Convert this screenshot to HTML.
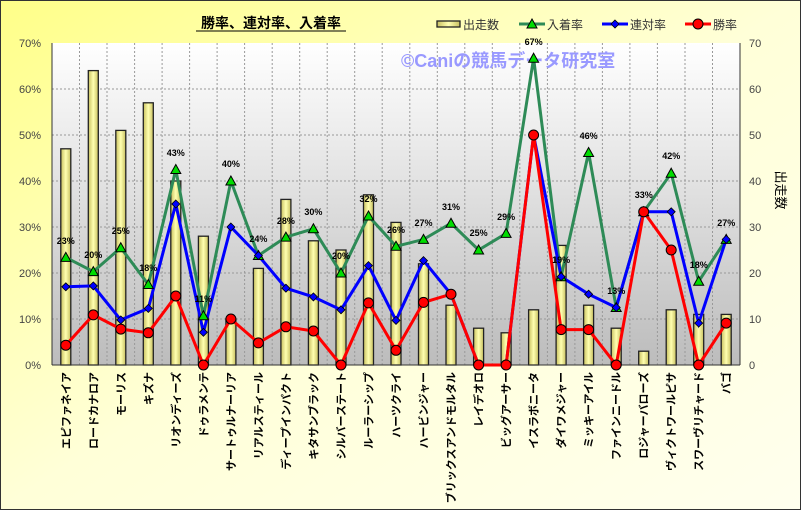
<!DOCTYPE html>
<html><head><meta charset="utf-8"><style>
body{margin:0;width:801px;height:510px;overflow:hidden}
text{font-family:"Liberation Sans","Noto Sans CJK JP",sans-serif}
</style></head><body>
<svg width="801" height="510" xmlns="http://www.w3.org/2000/svg">
<defs>
<linearGradient id="bg" x1="0" y1="0" x2="1" y2="1"><stop offset="0" stop-color="#ffff88"/><stop offset="0.5" stop-color="#ffffd8"/><stop offset="1" stop-color="#ffffee"/></linearGradient>
<linearGradient id="pl" x1="0" y1="0" x2="0" y2="1"><stop offset="0" stop-color="#ffffff"/><stop offset="1" stop-color="#bcbcbc"/></linearGradient>
<linearGradient id="bar" x1="0" y1="0" x2="1" y2="0"><stop offset="0" stop-color="#c8c060"/><stop offset="0.5" stop-color="#ffffb0"/><stop offset="1" stop-color="#c8c060"/></linearGradient>
</defs>
<rect x="0.5" y="0.5" width="800" height="509" fill="url(#bg)" stroke="#333"/>
<rect x="52" y="43" width="688" height="322" fill="url(#pl)"/>
<g stroke="#999" stroke-dasharray="2,2" stroke-width="1">
<line x1="52" y1="319" x2="740" y2="319"/><line x1="52" y1="273" x2="740" y2="273"/><line x1="52" y1="227" x2="740" y2="227"/><line x1="52" y1="181" x2="740" y2="181"/><line x1="52" y1="135" x2="740" y2="135"/><line x1="52" y1="89" x2="740" y2="89"/>
<line x1="79.5" y1="43" x2="79.5" y2="365"/><line x1="107" y1="43" x2="107" y2="365"/><line x1="134.6" y1="43" x2="134.6" y2="365"/><line x1="162.1" y1="43" x2="162.1" y2="365"/><line x1="189.6" y1="43" x2="189.6" y2="365"/><line x1="217.1" y1="43" x2="217.1" y2="365"/><line x1="244.6" y1="43" x2="244.6" y2="365"/><line x1="272.2" y1="43" x2="272.2" y2="365"/><line x1="299.7" y1="43" x2="299.7" y2="365"/><line x1="327.2" y1="43" x2="327.2" y2="365"/><line x1="354.7" y1="43" x2="354.7" y2="365"/><line x1="382.2" y1="43" x2="382.2" y2="365"/><line x1="409.8" y1="43" x2="409.8" y2="365"/><line x1="437.3" y1="43" x2="437.3" y2="365"/><line x1="464.8" y1="43" x2="464.8" y2="365"/><line x1="492.3" y1="43" x2="492.3" y2="365"/><line x1="519.8" y1="43" x2="519.8" y2="365"/><line x1="547.4" y1="43" x2="547.4" y2="365"/><line x1="574.9" y1="43" x2="574.9" y2="365"/><line x1="602.4" y1="43" x2="602.4" y2="365"/><line x1="629.9" y1="43" x2="629.9" y2="365"/><line x1="657.4" y1="43" x2="657.4" y2="365"/><line x1="685" y1="43" x2="685" y2="365"/><line x1="712.5" y1="43" x2="712.5" y2="365"/>
</g>
<text x="401" y="67" font-size="18" font-weight="bold" fill="#9999ff">©Caniの競馬データ研究室</text>
<g fill="url(#bar)" stroke="#222" stroke-width="1.3">
<rect x="60.8" y="148.8" width="10" height="216.2"/><rect x="88.3" y="70.6" width="10" height="294.4"/><rect x="115.8" y="130.4" width="10" height="234.6"/><rect x="143.3" y="102.8" width="10" height="262.2"/><rect x="170.8" y="181" width="10" height="184"/><rect x="198.4" y="236.2" width="10" height="128.8"/><rect x="225.9" y="319" width="10" height="46"/><rect x="253.4" y="268.4" width="10" height="96.6"/><rect x="280.9" y="199.4" width="10" height="165.6"/><rect x="308.4" y="240.8" width="10" height="124.2"/><rect x="336" y="250" width="10" height="115"/><rect x="363.5" y="194.8" width="10" height="170.2"/><rect x="391" y="222.4" width="10" height="142.6"/><rect x="418.5" y="263.8" width="10" height="101.2"/><rect x="446" y="305.2" width="10" height="59.8"/><rect x="473.6" y="328.2" width="10" height="36.8"/><rect x="501.1" y="332.8" width="10" height="32.2"/><rect x="528.6" y="309.8" width="10" height="55.2"/><rect x="556.1" y="245.4" width="10" height="119.6"/><rect x="583.6" y="305.2" width="10" height="59.8"/><rect x="611.2" y="328.2" width="10" height="36.8"/><rect x="638.7" y="351.2" width="10" height="13.8"/><rect x="666.2" y="309.8" width="10" height="55.2"/><rect x="693.7" y="314.4" width="10" height="50.6"/><rect x="721.2" y="314.4" width="10" height="50.6"/>
</g>
<line x1="52" y1="43" x2="52" y2="365" stroke="#333"/><line x1="740" y1="43" x2="740" y2="365" stroke="#333"/><line x1="52" y1="365" x2="740" y2="365" stroke="#333"/>
<polyline fill="none" stroke="#2e8b57" stroke-width="3" points="65.8,257.4 93.3,271.6 120.8,247.7 148.3,284.5 175.8,169.5 203.4,315.8 230.9,181 258.4,255.5 285.9,237.1 313.4,228.8 341,273 368.5,216 396,246.3 423.5,239.4 451,223.3 478.6,250 506.1,233.4 533.6,58.2 561.1,276.7 588.6,152.5 616.2,307.5 643.7,211.8 671.2,173.2 698.7,281.3 726.2,239.4"/>
<polyline fill="none" stroke="#0000ff" stroke-width="3" points="65.8,286.8 93.3,285.9 120.8,319.9 148.3,308.4 175.8,204 203.4,332.3 230.9,227 258.4,255.5 285.9,288.2 313.4,296.9 341,309.8 368.5,265.6 396,320.4 423.5,260.6 451,294.2 478.6,365 506.1,365 533.6,135 561.1,276.7 588.6,294.2 616.2,307.5 643.7,211.8 671.2,211.8 698.7,323.1 726.2,239.4"/>
<polyline fill="none" stroke="#ff0000" stroke-width="3" points="65.8,345.2 93.3,314.9 120.8,329.1 148.3,332.8 175.8,296 203.4,365 230.9,319 258.4,342.9 285.9,326.8 313.4,331 341,365 368.5,302.9 396,350.3 423.5,302.4 451,294.2 478.6,365 506.1,365 533.6,135 561.1,329.6 588.6,329.6 616.2,365 643.7,211.8 671.2,250 698.7,365 726.2,323.1"/>
<g fill="#00dd00" stroke="#000" stroke-width="1">
<path d="M65.8,252.4l5,9h-10z"/><path d="M93.3,266.6l5,9h-10z"/><path d="M120.8,242.7l5,9h-10z"/><path d="M148.3,279.5l5,9h-10z"/><path d="M175.8,164.5l5,9h-10z"/><path d="M203.4,310.8l5,9h-10z"/><path d="M230.9,176l5,9h-10z"/><path d="M258.4,250.5l5,9h-10z"/><path d="M285.9,232.1l5,9h-10z"/><path d="M313.4,223.8l5,9h-10z"/><path d="M341,268l5,9h-10z"/><path d="M368.5,211l5,9h-10z"/><path d="M396,241.3l5,9h-10z"/><path d="M423.5,234.4l5,9h-10z"/><path d="M451,218.3l5,9h-10z"/><path d="M478.6,245l5,9h-10z"/><path d="M506.1,228.4l5,9h-10z"/><path d="M533.6,53.2l5,9h-10z"/><path d="M561.1,271.7l5,9h-10z"/><path d="M588.6,147.5l5,9h-10z"/><path d="M616.2,302.5l5,9h-10z"/><path d="M643.7,206.8l5,9h-10z"/><path d="M671.2,168.2l5,9h-10z"/><path d="M698.7,276.3l5,9h-10z"/><path d="M726.2,234.4l5,9h-10z"/>
</g>
<g fill="#0000ff" stroke="#000" stroke-width="0.8">
<path d="M65.8,282.8l4,4-4,4-4-4z"/><path d="M93.3,281.9l4,4-4,4-4-4z"/><path d="M120.8,315.9l4,4-4,4-4-4z"/><path d="M148.3,304.4l4,4-4,4-4-4z"/><path d="M175.8,200l4,4-4,4-4-4z"/><path d="M203.4,328.3l4,4-4,4-4-4z"/><path d="M230.9,223l4,4-4,4-4-4z"/><path d="M258.4,251.5l4,4-4,4-4-4z"/><path d="M285.9,284.2l4,4-4,4-4-4z"/><path d="M313.4,292.9l4,4-4,4-4-4z"/><path d="M341,305.8l4,4-4,4-4-4z"/><path d="M368.5,261.6l4,4-4,4-4-4z"/><path d="M396,316.4l4,4-4,4-4-4z"/><path d="M423.5,256.6l4,4-4,4-4-4z"/><path d="M451,290.2l4,4-4,4-4-4z"/><path d="M533.6,131l4,4-4,4-4-4z"/><path d="M561.1,272.7l4,4-4,4-4-4z"/><path d="M588.6,290.2l4,4-4,4-4-4z"/><path d="M616.2,303.5l4,4-4,4-4-4z"/><path d="M643.7,207.8l4,4-4,4-4-4z"/><path d="M671.2,207.8l4,4-4,4-4-4z"/><path d="M698.7,319.1l4,4-4,4-4-4z"/><path d="M726.2,235.4l4,4-4,4-4-4z"/>
</g>
<g fill="#ff0000" stroke="#000" stroke-width="1">
<circle cx="65.8" cy="345.2" r="5"/><circle cx="93.3" cy="314.9" r="5"/><circle cx="120.8" cy="329.1" r="5"/><circle cx="148.3" cy="332.8" r="5"/><circle cx="175.8" cy="296" r="5"/><circle cx="203.4" cy="365" r="5"/><circle cx="230.9" cy="319" r="5"/><circle cx="258.4" cy="342.9" r="5"/><circle cx="285.9" cy="326.8" r="5"/><circle cx="313.4" cy="331" r="5"/><circle cx="341" cy="365" r="5"/><circle cx="368.5" cy="302.9" r="5"/><circle cx="396" cy="350.3" r="5"/><circle cx="423.5" cy="302.4" r="5"/><circle cx="451" cy="294.2" r="5"/><circle cx="478.6" cy="365" r="5"/><circle cx="506.1" cy="365" r="5"/><circle cx="533.6" cy="135" r="5"/><circle cx="561.1" cy="329.6" r="5"/><circle cx="588.6" cy="329.6" r="5"/><circle cx="616.2" cy="365" r="5"/><circle cx="643.7" cy="211.8" r="5"/><circle cx="671.2" cy="250" r="5"/><circle cx="698.7" cy="365" r="5"/><circle cx="726.2" cy="323.1" r="5"/>
</g>
<g font-size="9" font-weight="bold" text-anchor="middle" fill="#000">
<text x="65.8" y="244">23%</text><text x="93.3" y="258">20%</text><text x="120.8" y="234">25%</text><text x="148.3" y="271">18%</text><text x="175.8" y="156">43%</text><text x="203.4" y="302">11%</text><text x="230.9" y="167">40%</text><text x="258.4" y="242">24%</text><text x="285.9" y="224">28%</text><text x="313.4" y="215">30%</text><text x="341" y="259">20%</text><text x="368.5" y="202">32%</text><text x="396" y="233">26%</text><text x="423.5" y="226">27%</text><text x="451" y="210">31%</text><text x="478.6" y="236">25%</text><text x="506.1" y="220">29%</text><text x="533.6" y="45">67%</text><text x="561.1" y="263">19%</text><text x="588.6" y="139">46%</text><text x="616.2" y="294">13%</text><text x="643.7" y="198">33%</text><text x="671.2" y="159">42%</text><text x="698.7" y="268">18%</text><text x="726.2" y="226">27%</text>
</g>
<g font-size="11" fill="#444" text-anchor="end">
<text x="41" y="369">0%</text><text x="41" y="323">10%</text><text x="41" y="277">20%</text><text x="41" y="231">30%</text><text x="41" y="185">40%</text><text x="41" y="139">50%</text><text x="41" y="93">60%</text><text x="41" y="47">70%</text>
</g>
<g font-size="11" fill="#444">
<text x="749" y="369">0</text><text x="749" y="323">10</text><text x="749" y="277">20</text><text x="749" y="231">30</text><text x="749" y="185">40</text><text x="749" y="139">50</text><text x="749" y="93">60</text><text x="749" y="47">70</text>
</g>
<text transform="translate(776,190) rotate(90)" font-size="13" text-anchor="middle" fill="#000">出走数</text>
<text x="271" y="28" font-size="14" font-weight="bold" text-anchor="middle" fill="#000">勝率、連対率、入着率</text>
<line x1="196" y1="31" x2="346" y2="31" stroke="#000"/>
<g font-size="11" font-weight="bold" fill="#000" text-anchor="end">
<text transform="translate(69.8,372) rotate(-90)">エピファネイア</text><text transform="translate(97.3,372) rotate(-90)">ロードカナロア</text><text transform="translate(124.8,372) rotate(-90)">モーリス</text><text transform="translate(152.3,372) rotate(-90)">キズナ</text><text transform="translate(179.8,372) rotate(-90)">リオンディーズ</text><text transform="translate(207.4,372) rotate(-90)">ドゥラメンテ</text><text transform="translate(234.9,372) rotate(-90)">サートゥルナーリア</text><text transform="translate(262.4,372) rotate(-90)">リアルスティール</text><text transform="translate(289.9,372) rotate(-90)">ディープインパクト</text><text transform="translate(317.4,372) rotate(-90)">キタサンブラック</text><text transform="translate(345,372) rotate(-90)">シルバーステート</text><text transform="translate(372.5,372) rotate(-90)">ルーラーシップ</text><text transform="translate(400,372) rotate(-90)">ハーツクライ</text><text transform="translate(427.5,372) rotate(-90)">ハービンジャー</text><text transform="translate(455,372) rotate(-90)">ブリックスアンドモルタル</text><text transform="translate(482.6,372) rotate(-90)">レイデオロ</text><text transform="translate(510.1,372) rotate(-90)">ビッグアーサー</text><text transform="translate(537.6,372) rotate(-90)">イスラボニータ</text><text transform="translate(565.1,372) rotate(-90)">ダイワメジャー</text><text transform="translate(592.6,372) rotate(-90)">ミッキーアイル</text><text transform="translate(620.2,372) rotate(-90)">ファインニードル</text><text transform="translate(647.7,372) rotate(-90)">ロジャーバローズ</text><text transform="translate(675.2,372) rotate(-90)">ヴィクトワールピサ</text><text transform="translate(702.7,372) rotate(-90)">スワーヴリチャード</text><text transform="translate(730.2,372) rotate(-90)">バゴ</text>
</g>
<g font-size="12" fill="#333">
<rect x="437" y="21" width="23" height="6" fill="url(#bar)" stroke="#222" stroke-width="1.3"/><text x="463" y="29">出走数</text>
<line x1="519" y1="24" x2="545" y2="24" stroke="#2e8b57" stroke-width="3"/><path d="M532,19l5,9h-10z" fill="#00dd00" stroke="#000"/><text x="547" y="29">入着率</text>
<line x1="602" y1="24" x2="628" y2="24" stroke="#0000ff" stroke-width="3"/><path d="M615,20l4,4-4,4-4-4z" fill="#0000ff" stroke="#000" stroke-width="0.8"/><text x="630" y="29">連対率</text>
<line x1="685" y1="24" x2="711" y2="24" stroke="#ff0000" stroke-width="3"/><circle cx="698" cy="24" r="5" fill="#ff0000" stroke="#000"/><text x="713" y="29">勝率</text>
</g>
</svg>
</body></html>
